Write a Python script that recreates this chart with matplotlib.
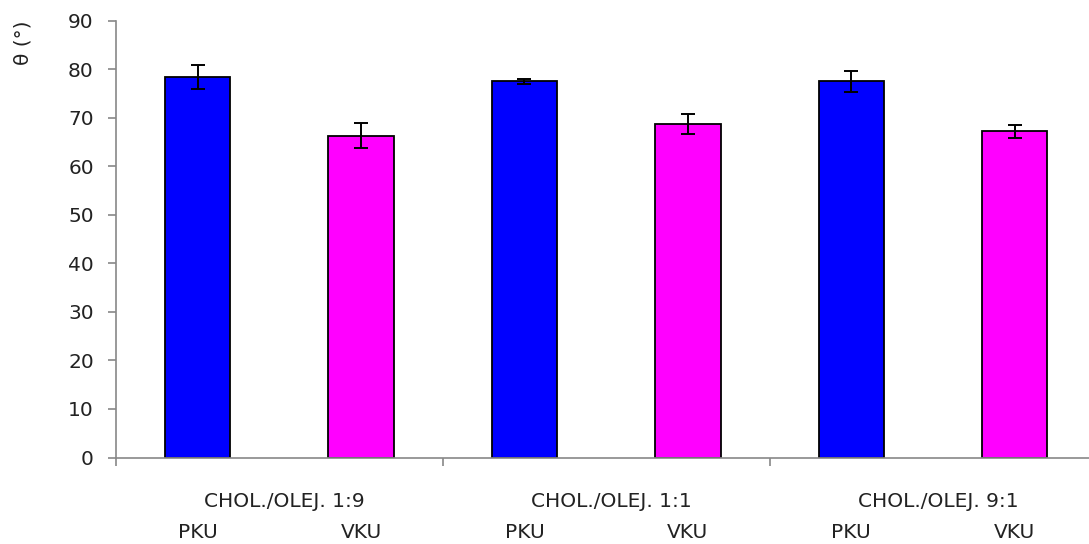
import matplotlib.pyplot as plt
import matplotlib.transforms as mtransforms

# Kąt zwilżania dla mieszanin CHOL./OLEJ.
groups = ["CHOL./OLEJ. 1:9", "CHOL./OLEJ. 1:1", "CHOL./OLEJ. 9:1"]
series = ["PKU", "VKU"]
pku = [78.4, 77.5, 77.5]
pku_err = [2.5, 0.5, 2.2]
vku = [66.3, 68.7, 67.2]
vku_err = [2.6, 2.0, 1.3]

blue = "#0000FF"
magenta = "#FF00FF"
grey = "#888888"
txt = "#222222"
fs = 14.5

fig = plt.figure(figsize=(10.89, 5.44), dpi=100)
ax = fig.add_axes([116 / 1089, 86.5 / 544, (1089 - 116) / 1089, 436.8 / 544])

pos_pku = [2 * i for i in range(len(groups))]
pos_vku = [2 * i + 1 for i in range(len(groups))]
err_kw = dict(ecolor="black", elinewidth=1.4, capsize=5, capthick=1.4)
ax.bar(pos_pku, pku, width=0.4, color=blue, edgecolor="black", linewidth=1.3,
       yerr=pku_err, error_kw=err_kw)
ax.bar(pos_vku, vku, width=0.4, color=magenta, edgecolor="black", linewidth=1.3,
       yerr=vku_err, error_kw=err_kw)

ax.set_ylim(0, 90)
ax.set_yticks(range(0, 91, 10))
ax.set_xlim(-0.5, 5.455)
ax.set_xticks([-0.5, 1.5, 3.5])
ax.set_xticklabels([])

for side in ["top", "right"]:
    ax.spines[side].set_visible(False)
for side in ["left", "bottom"]:
    ax.spines[side].set_color(grey)
    ax.spines[side].set_linewidth(1.2)
ax.tick_params(axis="both", direction="out", length=6, width=1.2, color=grey,
               labelsize=fs, labelcolor=txt, pad=10)

# podpisy grup i serii pod osią X
trans = mtransforms.blended_transform_factory(ax.transData, fig.transFigure)
for i, g in enumerate(groups):
    ax.text(2 * i + 0.53, 1 - 501.5 / 544, g, transform=trans, ha="center",
            va="center", fontsize=fs, color=txt)
    ax.text(pos_pku[i], 1 - 533 / 544, series[0], transform=trans, ha="center",
            va="center", fontsize=fs, color=txt)
    ax.text(pos_vku[i], 1 - 533 / 544, series[1], transform=trans, ha="center",
            va="center", fontsize=fs, color=txt)

fig.text(23 / 1089, 1 - 43 / 544, "θ (°)", rotation=90, ha="center", va="center",
         fontsize=fs, color=txt)

fig.savefig("out.png", dpi=100)
